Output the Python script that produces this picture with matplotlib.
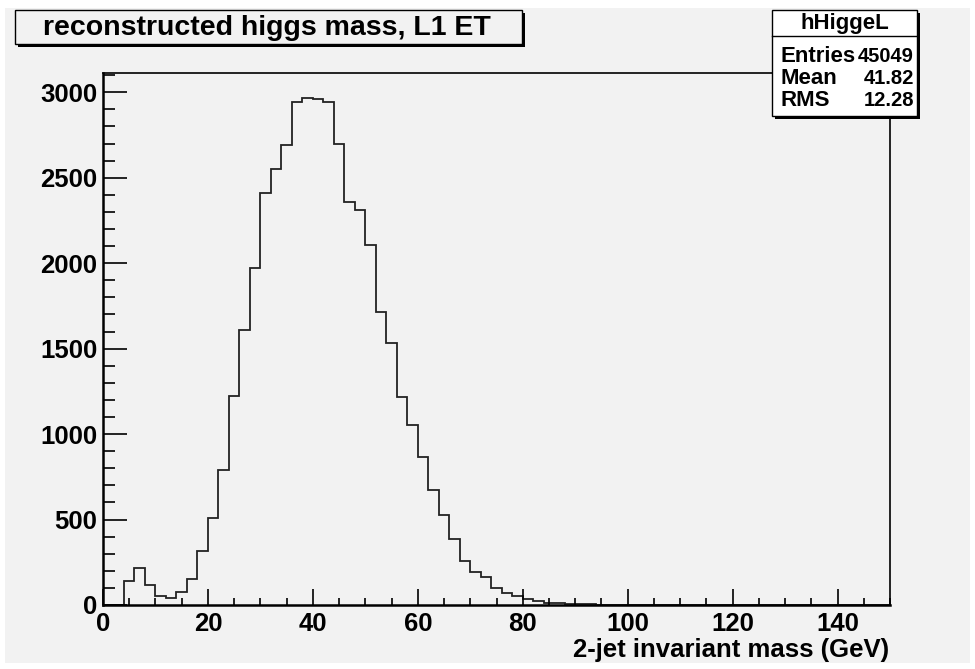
import numpy as np
import matplotlib
matplotlib.use("Agg")
import matplotlib.pyplot as plt
from matplotlib.patches import Rectangle
from matplotlib.lines import Line2D
from matplotlib.ticker import MultipleLocator

# ---- data ----
bin_start = 0.0
bin_width = 2.0
counts = [0, 0, 140, 216, 116, 55, 43, 74, 150, 314,
          507, 790, 1222, 1607, 1970, 2409, 2550, 2690, 2941, 2966,
          2960, 2941, 2698, 2359, 2312, 2107, 1715, 1534, 1218, 1052,
          866, 670, 527, 389, 259, 191, 162, 100, 70, 53,
          33, 23, 10, 12, 4, 4, 3, 2, 1, 1,
          0, 0, 0, 0, 0, 0, 0, 0, 0, 0,
          0, 0, 0, 0, 0, 0, 0, 0, 0, 0,
          0, 0, 0, 0, 0]
x_ticks = [0, 20, 40, 60, 80, 100, 120, 140]
y_ticks = [0, 500, 1000, 1500, 2000, 2500, 3000]
title = "reconstructed higgs mass, L1 ET"
xlabel = "2-jet invariant mass (GeV)"
stats_name = "hHiggeL"
stats_rows = [("Entries", "45049"), ("Mean", "41.82"), ("RMS", "12.28")]

W, H = 975, 669
BG = "#f2f2f2"
FONT = "Liberation Sans"

fig = plt.figure(figsize=(W / 100, H / 100), dpi=100)
fig.patch.set_facecolor("white")

def fx(x):
    return x / W

def fy(y):
    return 1 - y / H

# canvas gray area
fig.patches.append(Rectangle((fx(5), fy(663)), fx(970) - fx(5), fy(8) - fy(663),
                             transform=fig.transFigure, facecolor=BG, edgecolor="none", zorder=-10))

L, R, T, B = 103, 890, 72.7, 605
ax = fig.add_axes([fx(L), fy(B), fx(R) - fx(L), fy(T) - fy(B)])
ax.set_facecolor(BG)

edges = bin_start + bin_width * np.arange(len(counts) + 1)
ax.stairs(counts, edges, color="#222222", linewidth=1.3, baseline=0)

ax.set_xlim(0, 150)
ax.set_ylim(0, 1.05 * max(counts))

ax.set_xticks(x_ticks)
ax.set_yticks(y_ticks)
ax.xaxis.set_minor_locator(MultipleLocator(5))
ax.yaxis.set_minor_locator(MultipleLocator(100))
ax.tick_params(axis="y", which="major", direction="in", length=17, width=1.2, pad=4,
               labelsize=18.5)
ax.tick_params(axis="y", which="minor", direction="in", length=8.5, width=1.2)
ax.tick_params(axis="x", which="major", direction="in", length=11.5, width=1.2, pad=5,
               labelsize=18.5)
ax.tick_params(axis="x", which="minor", direction="in", length=5.4, width=1.2)
for lab in ax.get_xticklabels() + ax.get_yticklabels():
    lab.set_fontfamily(FONT)
    lab.set_fontweight("bold")

for s in ["left", "bottom"]:
    ax.spines[s].set_linewidth(1.8)
for s in ["top", "right"]:
    ax.spines[s].set_linewidth(1.2)

# x-axis title
fig.text(fx(889), fy(650), xlabel, ha="right", va="center", fontsize=18.5,
         fontweight="bold", family=FONT)

# title box with shadow
tx0, ty0, tx1, ty1 = 15, 10, 522, 44
sh = 3
fig.patches.append(Rectangle((fx(tx0 + sh), fy(ty1 + sh)), fx(tx1) - fx(tx0), fy(ty0) - fy(ty1),
                             transform=fig.transFigure, facecolor="black", edgecolor="none", zorder=5))
fig.patches.append(Rectangle((fx(tx0), fy(ty1)), fx(tx1) - fx(tx0), fy(ty0) - fy(ty1),
                             transform=fig.transFigure, facecolor=BG, edgecolor="black",
                             linewidth=1.0, zorder=6))
fig.text(fx(267), fy(28), title, ha="center", va="center",
         fontsize=20.5, fontweight="bold", family=FONT, zorder=7)

# stats box with shadow
sx0, sy0, sx1, sy1 = 772, 10, 917, 115.7
fig.patches.append(Rectangle((fx(sx0 + sh), fy(sy1 + sh)), fx(sx1) - fx(sx0), fy(sy0) - fy(sy1),
                             transform=fig.transFigure, facecolor="white", edgecolor="none", zorder=4))
fig.patches.append(Rectangle((fx(sx0 + sh), fy(sy1 + sh)), fx(sx1) - fx(sx0), fy(sy0) - fy(sy1),
                             transform=fig.transFigure, facecolor="black", edgecolor="none", zorder=5))
fig.patches.append(Rectangle((fx(sx0), fy(sy1)), fx(sx1) - fx(sx0), fy(sy0) - fy(sy1),
                             transform=fig.transFigure, facecolor="white", edgecolor="black",
                             linewidth=1.0, zorder=6))
fig.lines.append(Line2D([fx(sx0), fx(sx1)], [fy(35.7), fy(35.7)], transform=fig.transFigure,
                        color="black", linewidth=1.0, zorder=7))
fig.text(fx((sx0 + sx1) / 2), fy(23), stats_name, ha="center", va="center",
         fontsize=16, fontweight="bold", family=FONT, zorder=8)
row_y = [56, 78.5, 101]
for (k, v), yy in zip(stats_rows, row_y):
    fig.text(fx(780), fy(yy), k, ha="left", va="center", fontsize=16,
             fontweight="bold", family=FONT, zorder=8)
    fig.text(fx(914), fy(yy), v, ha="right", va="center", fontsize=14.5,
             fontweight="bold", family=FONT, zorder=8)

fig.savefig("out.png", dpi=100, facecolor=fig.get_facecolor())
